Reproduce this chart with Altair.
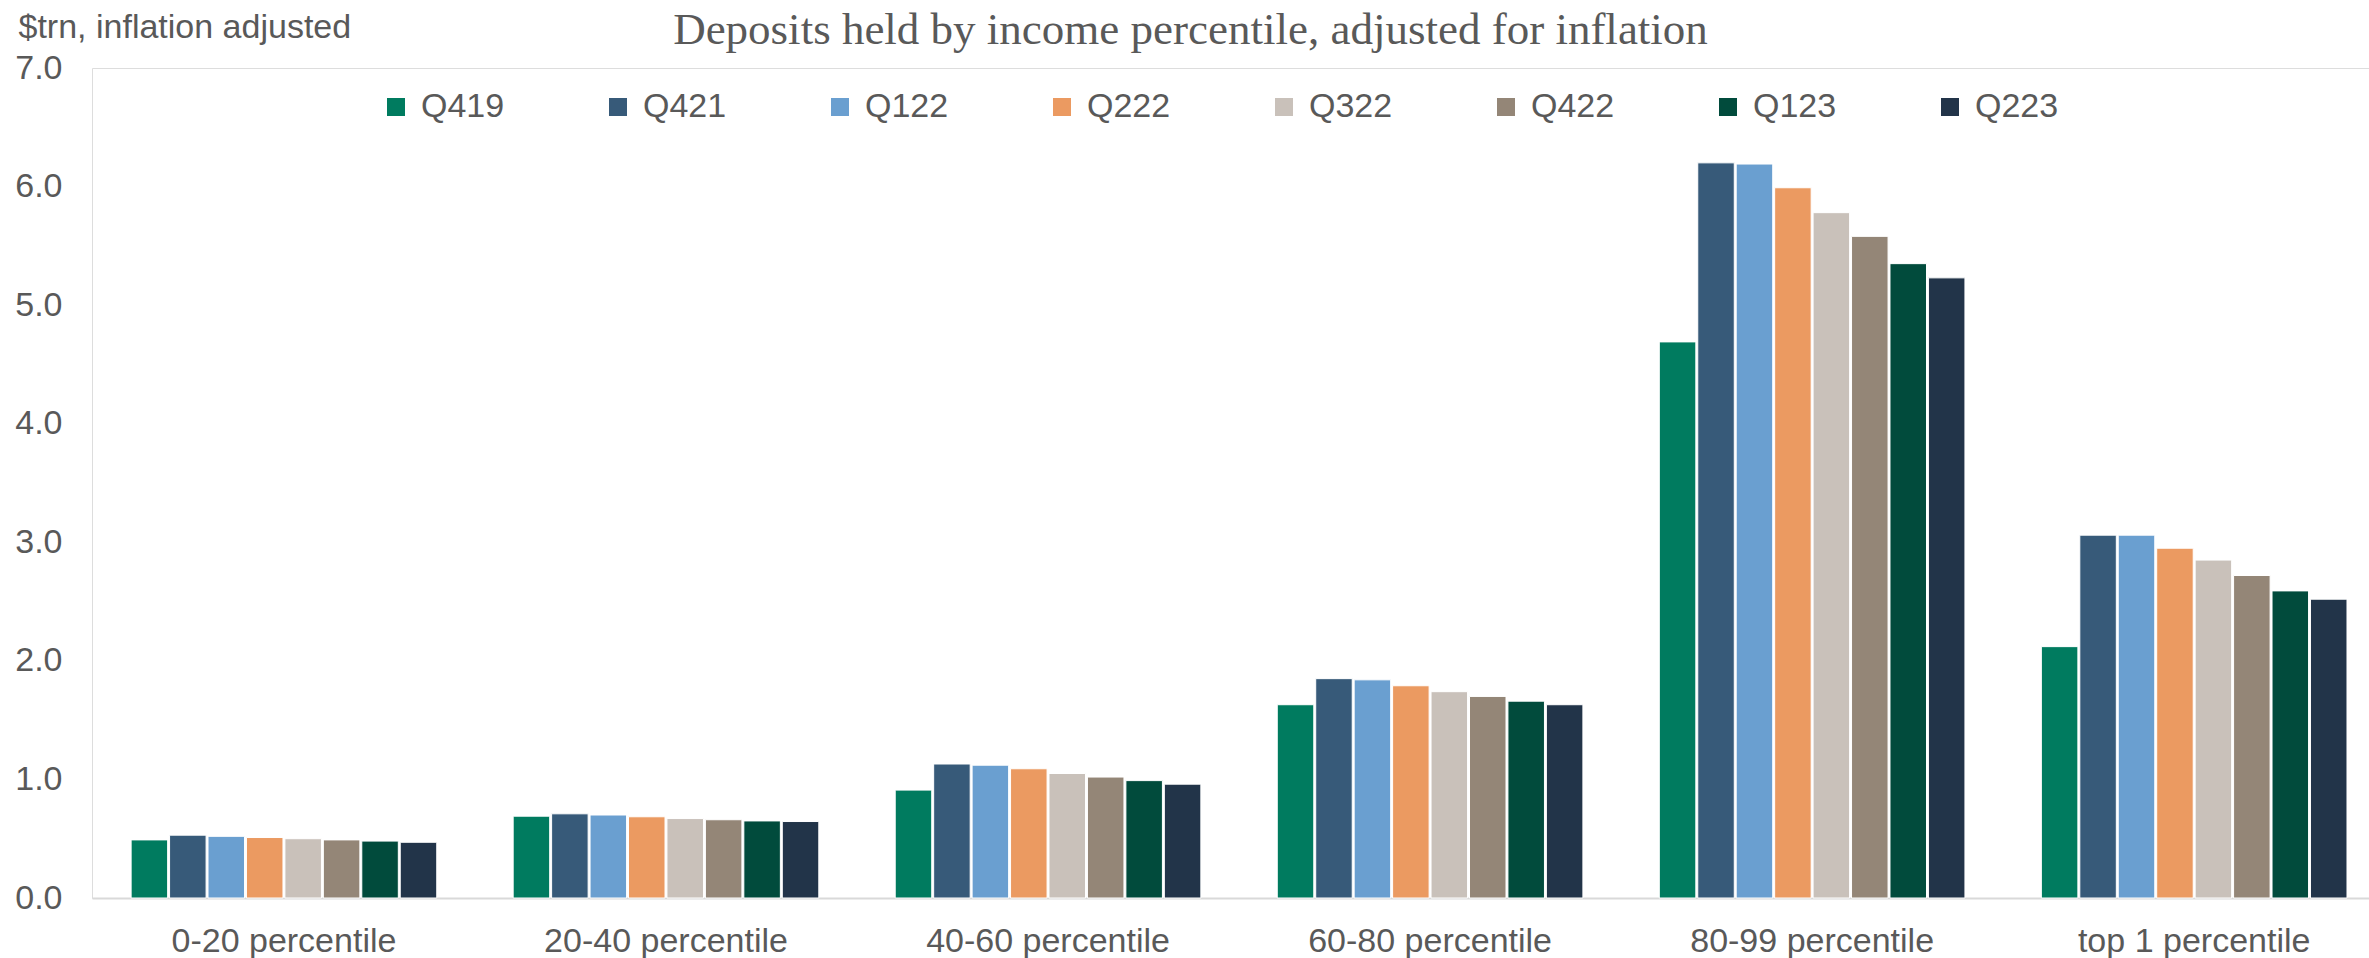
import altair as alt
import pandas as pd

# Income groups along the x axis
groups = [
    "0-20 percentile",
    "20-40 percentile",
    "40-60 percentile",
    "60-80 percentile",
    "80-99 percentile",
    "top 1 percentile",
]

# Quarters shown as the bars within each group
quarters = ["Q419", "Q421", "Q122", "Q222", "Q322", "Q422", "Q123", "Q223"]

# Deposits, $trn inflation adjusted, one list per quarter (in group order)
q419 = [0.49, 0.69, 0.91, 1.63, 4.69, 2.12]
q421 = [0.53, 0.71, 1.13, 1.85, 6.20, 3.06]
q122 = [0.52, 0.70, 1.12, 1.84, 6.19, 3.06]
q222 = [0.51, 0.685, 1.09, 1.79, 5.99, 2.95]
q322 = [0.50, 0.67, 1.05, 1.74, 5.78, 2.85]
q422 = [0.49, 0.66, 1.02, 1.70, 5.58, 2.72]
q123 = [0.48, 0.65, 0.99, 1.66, 5.35, 2.59]
q223 = [0.47, 0.645, 0.96, 1.63, 5.23, 2.52]

series = [q419, q421, q122, q222, q322, q422, q123, q223]

colors = [
    "#007B5F", "#375A79", "#6A9FD0", "#EB9A61",
    "#C9C1BA", "#948677", "#014B3C", "#223449",
]

y_ticks = [0, 1, 2, 3, 4, 5, 6, 7]

rows = []
for q, vals in zip(quarters, series):
    for g, v in zip(groups, vals):
        rows.append({"group": g, "quarter": q, "value": v})
df = pd.DataFrame(rows)

TEXT = "#595959"
SANS = "Liberation Sans"

bars = alt.Chart(df).mark_bar(stroke="white", strokeWidth=1).encode(
    x=alt.X(
        "group:N",
        sort=groups,
        scale=alt.Scale(paddingInner=0.2, paddingOuter=0.08, align=0.64),
        axis=alt.Axis(
            title=None,
            labelAngle=0,
            labelFont=SANS,
            labelFontSize=34,
            labelColor=TEXT,
            labelPadding=26,
            labelLimit=600,
            ticks=False,
            domainColor="#D9D9D9",
            domainWidth=2,
            grid=False,
        ),
    ),
    xOffset=alt.XOffset("quarter:N", sort=quarters, scale=alt.Scale(paddingInner=0.05, paddingOuter=0)),
    y=alt.Y(
        "value:Q",
        scale=alt.Scale(domain=[0, 7], nice=False),
        axis=alt.Axis(
            title="$trn, inflation adjusted",
            titleAngle=0,
            titleAlign="left",
            titleBaseline="alphabetic",
            titleX=-74,
            titleY=-31,
            titleFont=SANS,
            titleFontSize=34,
            titleFontWeight="normal",
            titleColor=TEXT,
            titleLimit=800,
            values=y_ticks,
            format=".1f",
            labelFont=SANS,
            labelFontSize=34,
            labelColor=TEXT,
            labelPadding=30,
            ticks=False,
            domain=False,
            grid=False,
        ),
    ),
    color=alt.Color(
        "quarter:N",
        sort=quarters,
        scale=alt.Scale(domain=quarters, range=colors),
        legend=alt.Legend(
            title=None,
            orient="none",
            direction="horizontal",
            columns=8,
            legendX=287,
            legendY=22,
            padding=0,
            symbolType="square",
            symbolSize=324,
            symbolStrokeWidth=0,
            labelFont=SANS,
            labelFontSize=34,
            labelColor=TEXT,
            labelOffset=8,
            columnPadding=96,
        ),
    ),
)

chart = bars.properties(
    width=2277,
    height=830,
    autosize=alt.AutoSizeParams(type="none"),
    padding={"left": 92, "top": 68, "right": 0, "bottom": 60},
    title=alt.TitleParams(
        "Deposits held by income percentile, adjusted for inflation",
        font="Liberation Serif",
        fontSize=45,
        fontWeight="normal",
        color=TEXT,
        anchor="middle",
        frame="group",
        baseline="alphabetic",
        dx=-40,
        dy=79,
        offset=0,
    ),
).configure_view(stroke=None).configure(background="white")

chart.save("out.html", embed_options={"renderer": "svg", "actions": False})
